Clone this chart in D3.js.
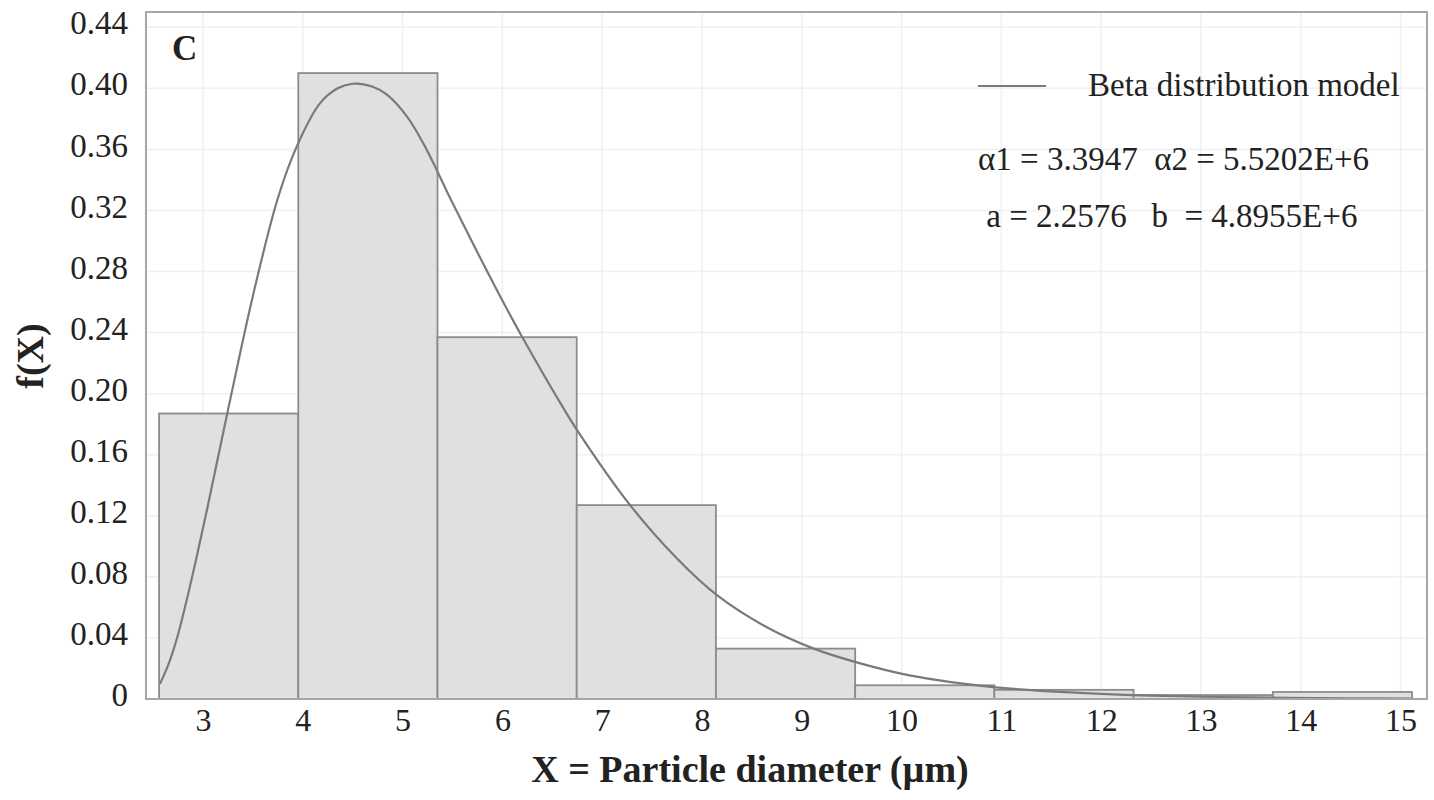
<!DOCTYPE html>
<html>
<head>
<meta charset="utf-8">
<script src="https://cdn.jsdelivr.net/npm/d3@7/dist/d3.min.js"></script>
<style>
  html, body { margin: 0; padding: 0; background: #fff; }
  svg { display: block; }
  text { font-family: "Liberation Serif", "Times New Roman", serif; fill: #222; }
  .pre { white-space: pre; }
</style>
</head>
<body>
<svg id="chart" width="1434" height="800"></svg>
<script>
// Histogram of particle diameters (bin edges in µm, frequency density per bin)
const binEdges   = [2.56, 3.955, 5.35, 6.745, 8.14, 9.535, 10.93, 12.325, 13.72, 15.115];
const binDensity = [0.187, 0.410, 0.237, 0.127, 0.033, 0.009, 0.006, 0.0026, 0.0046];

// Fitted beta distribution model, sampled along the diameter axis
const modelX = [2.57, 2.65, 2.74, 2.87, 3.04, 3.24, 3.50, 3.75, 3.94, 4.17, 4.35, 4.50, 4.70,
                4.84, 5.05, 5.24, 5.50, 6.00, 6.20, 6.58, 6.75, 7.28, 7.75, 8.15, 8.65,
                9.12, 9.55, 10.08, 10.92, 11.79, 12.50, 13.50, 14.50, 15.12];
const modelY = [0.010, 0.022, 0.040, 0.074, 0.124, 0.186, 0.264, 0.328, 0.362, 0.390, 0.400,
                0.403, 0.401, 0.396, 0.381, 0.360, 0.325, 0.261, 0.237, 0.194, 0.176, 0.127,
                0.092, 0.068, 0.047, 0.033, 0.024, 0.0155, 0.0078, 0.0040, 0.0022, 0.0010,
                0.0005, 0.0003];

// Axis ticks
const xTicks = [3, 4, 5, 6, 7, 8, 9, 10, 11, 12, 13, 14, 15];
const yTicks = [0, 0.04, 0.08, 0.12, 0.16, 0.20, 0.24, 0.28, 0.32, 0.36, 0.40, 0.44];

// Annotation text
const panelLabel = "C";
const legendLabel = "Beta distribution model";
const paramLines = ["\u03b11 = 3.3947  \u03b12 = 5.5202E+6", " a = 2.2576   b  = 4.8955E+6"];
const xTitle = "X = Particle diameter (\u00b5m)";
const yTitle = "f(X)";

const serif = "'Liberation Serif', 'Times New Roman', serif";
const svg = d3.select("#chart");
const plot = { left: 146, right: 1427, top: 12, bottom: 699 };

const x = d3.scaleLinear().domain([2.429, 15.265]).range([plot.left, plot.right]);
const y = d3.scaleLinear().domain([0, 0.45]).range([plot.bottom, plot.top]);

// Light grid
const grid = svg.append("g");
grid.selectAll("line.gy").data(yTicks.filter(d => d > 0)).join("line")
  .attr("x1", plot.left).attr("x2", plot.right)
  .attr("y1", d => y(d)).attr("y2", d => y(d))
  .attr("stroke", "#f0f0f0").attr("stroke-width", 1.5);
grid.selectAll("line.gx").data(xTicks).join("line")
  .attr("y1", plot.top).attr("y2", plot.bottom)
  .attr("x1", d => x(d)).attr("x2", d => x(d))
  .attr("stroke", "#f0f0f0").attr("stroke-width", 1.5);

// Histogram bars
const bins = binDensity.map((v, i) => ({ x0: binEdges[i], x1: binEdges[i + 1], v }));
svg.append("g").selectAll("rect").data(bins).join("rect")
  .attr("x", d => x(d.x0))
  .attr("width", d => x(d.x1) - x(d.x0))
  .attr("y", d => y(d.v))
  .attr("height", d => y(0) - y(d.v))
  .attr("fill", "#e0e0e0")
  .attr("stroke", "#8c8c8c")
  .attr("stroke-width", 1.8);

// Model curve
const line = d3.line()
  .x((d, i) => x(modelX[i]))
  .y(d => y(d))
  .curve(d3.curveCatmullRom.alpha(0.5));
svg.append("path").datum(modelY)
  .attr("d", line)
  .attr("fill", "none")
  .attr("stroke", "#7a7a7a")
  .attr("stroke-width", 2.2);

// Plot frame
svg.append("rect")
  .attr("x", plot.left).attr("y", plot.top)
  .attr("width", plot.right - plot.left).attr("height", plot.bottom - plot.top)
  .attr("fill", "none").attr("stroke", "#a6a6a6").attr("stroke-width", 2);

// Axes (labels only, no tick marks)
const xAxis = d3.axisBottom(x).tickValues(xTicks).tickSize(0).tickPadding(9).tickFormat(d3.format("d"));
const gx = svg.append("g").attr("transform", `translate(0,${plot.bottom})`).call(xAxis)
  .attr("font-family", serif).attr("font-size", 32);
gx.select(".domain").remove();
gx.selectAll("text").attr("fill", "#222");

const yAxis = d3.axisLeft(y).tickValues(yTicks).tickSize(0).tickPadding(18)
  .tickFormat(d => d === 0 ? "0" : d3.format(".2f")(d));
const gy = svg.append("g").attr("transform", `translate(${plot.left},0)`).call(yAxis)
  .attr("font-family", serif).attr("font-size", 33);
gy.select(".domain").remove();
gy.selectAll("text").attr("fill", "#222").attr("dy", "0.2em");

// Panel label
svg.append("text").attr("x", 172).attr("y", 60)
  .style("font-size", "35px").style("font-weight", "bold").text(panelLabel);

// Legend
svg.append("line").attr("x1", 978).attr("x2", 1046).attr("y1", 86).attr("y2", 86)
  .attr("stroke", "#7a7a7a").attr("stroke-width", 2.2);
svg.append("text").attr("x", 1088).attr("y", 96).style("font-size", "33px").text(legendLabel);

// Fitted parameters
svg.selectAll("text.param").data(paramLines).join("text")
  .attr("class", "param pre")
  .attr("x", 978).attr("y", (d, i) => 170 + i * 57)
  .style("font-size", "33px")
  .text(d => d);

// Axis titles
svg.append("text").attr("x", 750).attr("y", 782).attr("text-anchor", "middle")
  .style("font-size", "38px").style("font-weight", "bold").text(xTitle);
svg.append("text").attr("transform", "translate(43,356) rotate(-90)").attr("text-anchor", "middle")
  .style("font-size", "38px").style("font-weight", "bold").text(yTitle);
</script>
</body>
</html>
